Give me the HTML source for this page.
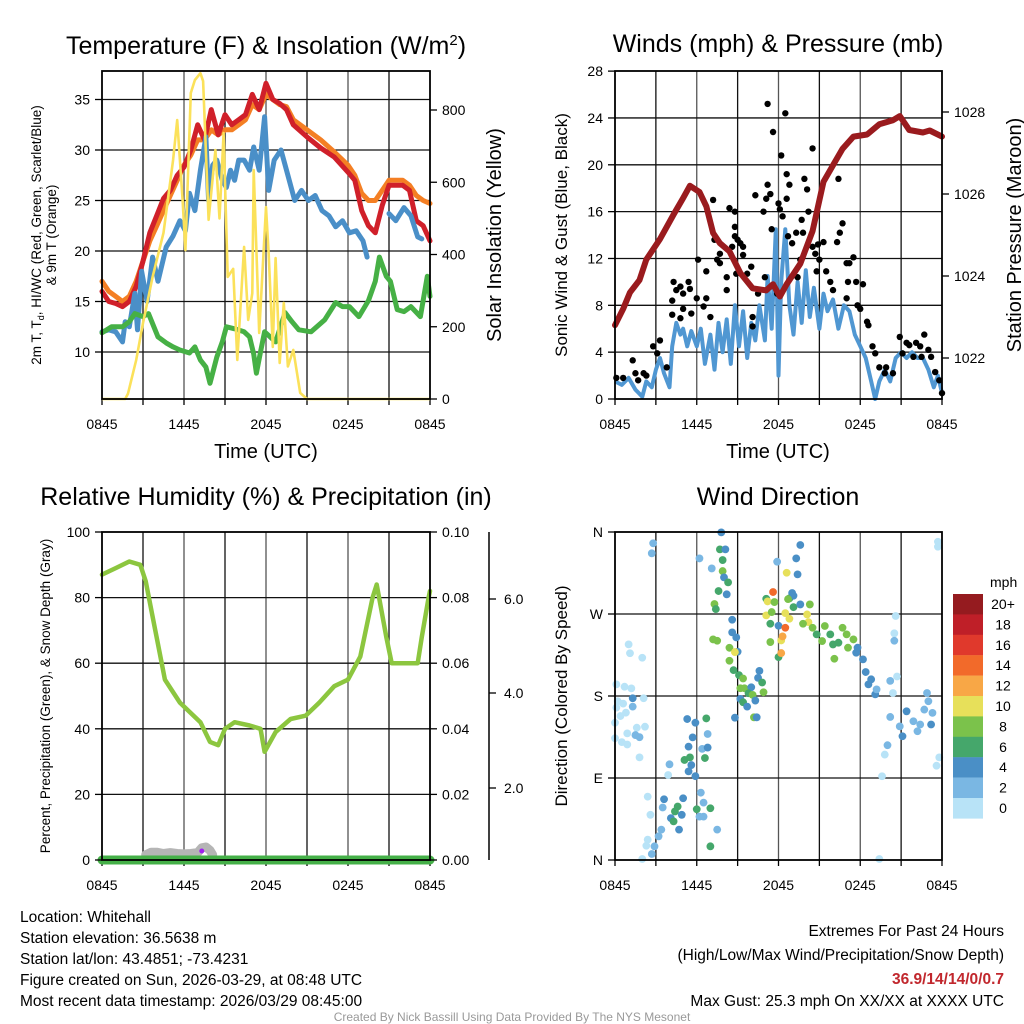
<!DOCTYPE html>
<html><head><meta charset="utf-8"><style>
html,body{margin:0;padding:0;background:#fff;}
svg{display:block;font-family:"Liberation Sans",sans-serif;}
</style></head><body>
<svg id="chart" width="1024" height="1024" viewBox="0 0 1024 1024" xmlns="http://www.w3.org/2000/svg">
<rect x="0" y="0" width="1024" height="1024" fill="#fff"/>
<g id="layer"></g>
<g font-size="25" fill="#000" text-anchor="middle">
<text x="266" y="54">Temperature (F) &amp; Insolation (W/m<tspan dy="-9" font-size="15">2</tspan><tspan dy="9">)</tspan></text>
<text x="778" y="52">Winds (mph) &amp; Pressure (mb)</text>
<text x="266" y="505">Relative Humidity (%) &amp; Precipitation (in)</text>
<text x="778" y="505">Wind Direction</text>
</g>
<g font-size="20" text-anchor="middle">
<text x="266" y="458">Time (UTC)</text>
<text x="778" y="458">Time (UTC)</text>
<text transform="translate(501,235) rotate(-90)">Solar Insolation (Yellow)</text>
<text transform="translate(1021,235) rotate(-90)">Station Pressure (Maroon)</text>
</g>
<g font-size="17" text-anchor="middle">
<text transform="translate(567,235) rotate(-90)">Sonic Wind &amp; Gust (Blue, Black)</text>
<text transform="translate(567,696) rotate(-90)">Direction (Colored By Speed)</text>
</g>
<g font-size="13.5" text-anchor="middle">
<text transform="translate(41,235) rotate(-90)">2m T, T<tspan font-size="9" dy="3">d</tspan><tspan dy="-3">, HI/WC (Red, Green, Scarlet/Blue)</tspan></text>
<text transform="translate(56,235) rotate(-90)">&amp; 9m T (Orange)</text>
<text transform="translate(50,696) rotate(-90)">Percent, Precipitation (Green), &amp; Snow Depth (Gray)</text>
</g>
<g font-size="15.5">
<text x="20" y="922">Location: Whitehall</text>
<text x="20" y="943">Station elevation: 36.5638 m</text>
<text x="20" y="964">Station lat/lon: 43.4851; -73.4231</text>
<text x="20" y="985">Figure created on Sun, 2026-03-29, at 08:48 UTC</text>
<text x="20" y="1006">Most recent data timestamp: 2026/03/29 08:45:00</text>
<text x="1004" y="936" text-anchor="end">Extremes For Past 24 Hours</text>
<text x="1004" y="960" text-anchor="end">(High/Low/Max Wind/Precipitation/Snow Depth)</text>
<text x="1004" y="984" text-anchor="end" fill="#c1272d" font-weight="bold">36.9/14/14/0/0.7</text>
<text x="1004" y="1006" text-anchor="end">Max Gust: 25.3 mph On XX/XX at XXXX UTC</text>
</g>
<text x="512" y="1021" font-size="12" fill="#999" text-anchor="middle">Created By Nick Bassill Using Data Provided By The NYS Mesonet</text>
</svg>
<script>
// ---- Panel 1 data ----
const tempHours = [0,0.5,1,1.5,2,2.5,3,3.5,4,4.5,5,5.5,6,6.5,7,7.5,8,8.5,9,9.5,10,10.5,11,11.5,12,12.5,13,13.5,14,15,16,17,18,18.5,19,19.5,20,20.5,21,22,22.5,23,23.5,24];
const redTemp = [16,15,14.8,14.5,15,16.5,19,21.8,23.5,25.2,26,27.5,28.3,30,32.5,31,34,31.5,33.5,32.5,33,33.5,35.5,34,36.6,35,34.6,34,32.5,31.3,30.2,29.3,27.8,27,24,22.5,21.8,24.5,26.5,26.5,26,23,22.5,21];
const orangeTemp = [17,16,15.5,15,15.5,17,19,21,22.5,24,25.5,27,28.5,29.5,31,31,32,31.5,32,32,32.5,33,34.5,34,35.5,35,34.5,34.3,33,32,31,29.8,28.5,27.5,25.7,25,25,26,27,27,26.5,25.5,25,24.7];
const dewHours = [0,0.5,1,1.5,1.7,2,2.4,2.6,2.9,3.3,3.7,4.1,4.7,5.2,5.7,6.1,6.4,6.8,7.2,7.6,7.8,8.1,8.4,8.8,9.1,9.4,9.7,10,10.4,10.8,11.1,11.5,11.9,12.2,12.6,13.1,13.6,14.1,14.6,15.1,15.6,16.1,16.6,17.1,17.6,18.1,18.6,19.1,19.4,19.5,21,21.5,22.1,22.6,23.1,23.4];
const dewTemp = [12,12.2,12,11,13,12.5,15.8,12.2,18,15,19.4,17,20.4,21.5,23,22,25.7,24,28,31.3,25,28.5,29,27,26.3,28,27,29,29,28,30.3,28,33.3,26,29,30,27.5,25,26,25,25.5,24,23.5,22.4,23,21.8,22,21,19.4,null,23.7,23,24.3,23.5,21.4,21.2];
const greenHours = [0,0.7,1.5,2,2.4,3,3.4,4.1,4.7,5.2,5.7,6.4,6.8,7.2,7.6,7.9,8.4,8.8,9.1,9.7,10.4,10.8,11.1,11.3,11.6,11.9,12.7,13.4,13.9,14.4,15.3,16.3,17.1,17.6,18.1,18.8,19.5,20,20.3,20.8,21.1,21.6,22.1,22.6,23.3,23.8,24];
const greenTemp = [11.9,12.5,12.5,13,13.8,13.5,13.8,11.5,10.9,10.5,10.2,9.9,10.5,9.2,8.5,6.9,9.5,11,12.5,12.3,12,11.5,9.8,7.9,10,12,11,13.9,13,12.2,12,13.2,14.9,14.5,14.5,13.5,15.1,17,19.4,17.5,17,14.2,14,14.5,13.5,17.5,15.5];
const solHours = [0,1.7,1.9,2.5,3.0,3.7,4.5,5.2,5.5,5.9,6.1,6.5,6.8,7.2,7.4,7.8,8.3,8.6,8.9,9.2,9.6,9.9,10.4,10.7,11.0,11.1,11.5,12,12.2,12.5,12.7,13.0,13.3,13.6,14,14.5,15,24];
const solar = [0,0,15,108,210,338,460,662,772,551,412,847,883,902,880,496,689,500,736,338,360,108,421,219,293,634,183,531,400,144,390,100,266,90,136,17,0,0];
const tempTicks = [10,15,20,25,30,35];
const solarTicks = [0,200,400,600,800];
const timeLabels = ["0845","1445","2045","0245","0845"];
const timeLabelHours = [0,6,12,18,24];
// ---- Panel 2 data ----
const presHours = [0,0.6,1.1,1.8,2.3,3.3,4.3,5,5.5,6.2,6.7,7.2,7.7,8.4,9.2,10.1,11.1,11.6,12.1,12.6,13.6,14.5,15.3,16,16.7,17.5,18.5,19.4,20.4,20.9,21.6,22.6,23.1,24];
const pressure = [1022.8,1023.2,1023.6,1023.9,1024.4,1024.9,1025.5,1025.9,1026.2,1026.05,1025.7,1025.05,1024.8,1024.6,1024.07,1023.7,1023.65,1023.8,1023.5,1023.8,1024.3,1025.1,1026.3,1026.7,1027.1,1027.4,1027.45,1027.7,1027.8,1027.9,1027.56,1027.5,1027.55,1027.4];
const windHours = [0,0.5,1,1.5,2,2.3,2.7,3,3.3,3.6,4,4.2,4.5,4.8,5,5.3,5.6,6,6.3,6.6,7,7.3,7.6,7.9,8.2,8.5,8.8,9.1,9.4,9.7,10,10.3,10.6,11,11.2,11.5,11.8,12,12.2,12.5,12.8,13.1,13.4,13.7,14,14.3,14.6,15,15.3,15.6,16,16.4,16.8,17.2,17.6,18,18.4,18.8,19.1,19.4,19.8,20.2,20.6,21,21.4,21.8,22.2,22.6,23,23.4,23.7,24];
const windSpeed = [1.5,1.2,1.8,0.8,0.2,1.5,1.0,2.5,3.5,2.2,1.0,4.5,6.5,5.5,6.0,4.5,5.8,4.5,6.0,3.0,5.5,2.5,6.5,4.0,6.8,3.0,8.0,4.5,7.5,3.5,6.5,5.0,8.0,5.0,10.5,6.0,14.5,2.0,10.0,14.5,8.0,5.5,10.0,6.5,11.0,7.0,9.5,6.0,9.0,7.5,8.5,6.0,8.0,7.5,5.5,4.5,3.5,1.5,0.0,1.5,2.5,1.5,3.5,4.0,3.5,4.0,3.5,3.5,2.5,1.0,2.0,0.5];
const gustHours = [0.1,0.6,1.3,1.5,1.7,2.1,2.3,2.8,3.1,3.3,3.8,4.2,4.2,4.3,4.5,4.8,5.0,5.0,4.8,5.4,5.5,5.6,6.0,6.1,6.5,6.7,6.7,7.0,7.2,7.3,7.5,7.7,7.7,8.2,8.2,8.4,8.6,8.8,8.8,8.8,8.9,9.0,9.2,9.4,9.4,9.7,10.0,10.1,10.1,10.3,10.5,10.9,11.0,11.1,11.2,11.2,11.4,11.5,11.6,11.9,12.0,12.1,12.2,12.3,12.5,12.6,12.6,12.7,12.8,13.0,13.3,13.4,13.6,13.7,13.8,13.9,14.1,14.2,14.5,14.5,14.7,14.8,14.9,15.0,15.3,15.5,15.8,16.0,16.3,16.4,16.5,16.7,17.0,17.2,17.5,17.0,17.1,17.7,17.8,18.0,18.2,18.5,18.6,18.9,19.1,19.4,19.8,19.9,20.4,20.9,21.1,21.4,21.6,21.9,22.1,22.4,22.5,22.7,23.0,23.2,23.5,23.8,24.0];
const gustSpeed = [1.8,1.8,3.3,2.2,1.6,2.2,2.0,4.5,3.9,5.0,2.7,8.4,7.2,10.0,9.3,9.6,9.0,7.7,6.9,10.0,9.4,7.3,8.6,11.9,7.9,10.9,8.6,7.0,17.0,13.6,11.9,11.6,12.4,10.4,9.3,16.3,13.0,16.0,14.7,13.9,10.7,13.6,13.3,13.0,12.3,10.7,11.3,6.2,7.0,17.4,9.0,16.0,10.4,17.1,18.3,25.2,17.5,14.5,22.8,9.0,16.7,16.2,20.8,15.6,24.4,17.1,19.2,13.9,18.3,13.3,14.2,10.4,11.9,15.3,14.2,18.8,17.9,16.0,21.4,13.0,12.4,10.9,13.2,11.9,13.4,10.9,10.0,9.3,13.4,18.8,14.2,15.0,11.6,11.6,12.1,8.6,10.0,10.0,8.0,7.7,9.8,6.6,6.3,4.5,3.9,2.7,2.2,2.7,2.2,5.3,3.9,4.8,4.6,3.6,4.8,4.5,3.6,5.5,4.2,3.6,2.3,1.6,0.5];
const windTicks = [0,4,8,12,16,20,24,28];
const presTicks = [1022,1024,1026,1028];
// ---- Panel 3 data ----
const rhHours = [0,1,2,2.8,3.2,3.9,4.6,5.7,7.2,7.9,8.5,9,9.7,10.8,11.6,11.9,12.7,13.8,14.9,15.9,17,18,18.9,19.8,20.1,20.8,21.2,21.8,23.1,23.4,23.9,24];
const rh = [87,89,91,90,85,70,55,48,42,36,35,40,42,41,40,33,39,43,44,48,53,55,62,80,84,68,60,60,60,68,80,82];
const precipHours = [0,24];
const precip = [0,0];
const snowHours = [3.2,3.6,4,4.5,5,5.5,6,6.5,7,7.3,7.6,7.9,8.1];
const snowDepth = [0.12,0.18,0.18,0.15,0.17,0.15,0.14,0.15,0.17,0.28,0.3,0.22,0.12];
const rhTicks = [0,20,40,60,80,100];
const precipTicks = ["0.00","0.02","0.04","0.06","0.08","0.10"];
const snowTickVals = [2,4,6];
const snowTickLabels = ["2.0","4.0","6.0"];
// ---- Panel 4 data ----
const dirHours = [2.8,2.7,1.0,1.1,2.0,0.1,0.7,1.2,1.3,2.1,0.2,0.6,1.3,0.1,0.8,0.4,0.0,1.6,2.2,1.5,1.8,0.9,0.0,0.5,0.9,1.8,5.3,5.9,6.7,5.7,6.8,5.4,6.4,6.8,5.1,5.5,6.6,5.6,5.4,4.0,3.9,5.9,2.4,3.6,3.5,5.0,4.6,4.4,4.9,4.1,4.3,4.7,2.6,3.4,3.2,2.4,2.3,2.9,2.7,2.0,6.3,6.5,7.0,6.0,6.2,6.5,7.5,7.0,7.8,7.7,8.1,6.2,7.1,7.9,7.9,8.0,8.3,7.6,8.2,7.3,7.4,8.6,8.6,8.9,7.2,7.5,8.4,9.0,8.8,8.4,8.7,9.1,9.4,10.6,10.5,10.8,9.2,9.5,10.0,9.8,10.1,10.9,9.2,9.4,10.3,9.7,10.2,10.4,8.8,11.9,11.6,11.1,11.2,11.7,11.1,11.5,11.4,12.0,11.4,12.0,12.2,12.2,12.3,12.5,12.5,12.8,13.0,12.8,13.1,12.7,13.1,12.6,13.3,13.6,13.4,13.6,14.3,14.1,14.2,13.8,14.5,14.8,15.4,15.8,16.0,15.2,16.4,16.7,17.0,17.1,17.5,17.8,17.7,18.2,16.1,18.4,18.6,18.8,19.1,19.2,20.6,20.5,20.5,20.7,20.2,20.4,20.2,20.9,21.4,21.9,22.4,22.7,23.0,22.9,23.2,23.3,22.2,21.1,20.0,19.8,19.6,23.8,23.6,19.4,23.7,23.7];
const dirDeg = [347.6,336.6,236.7,226.9,222,192.8,190.2,188.4,177.5,177.5,174.2,171.6,168.3,167.2,161.7,158,150.7,145.2,146.3,137.1,134.8,139,133.6,129.4,126.8,112.6,154.7,150.7,155.4,134.6,138.3,124.4,122,123.4,109.8,112.6,111.9,104.2,97.3,105,93.3,92,69.5,66.7,57.6,67.8,58.7,53.3,49.6,46,42.4,33.3,49.6,33.3,26,22.3,15.7,15,6.6,1.1,73.9,63,56.8,55.7,47.6,47.6,33.3,15,359.6,340.9,340.9,331,320,329.2,317.1,310.2,304.7,295.2,291.6,280.9,275.4,263.7,249.8,244.3,242.1,240.6,232.9,228.6,228.2,218.7,208.4,202.9,199.2,207.6,199.9,194.8,188.5,188.5,189.6,183,181.2,184.1,176.8,173.1,175,168.3,156.6,156.6,156.2,327.4,294.1,286.7,283.8,283.1,268.5,272.1,259.3,257.1,239.2,222.7,227.1,241,245.4,254.9,271,264.8,293,287.1,290,286.3,277.5,315.3,331,345.7,313.5,280.5,280.5,269.5,261.1,259.3,254.9,247.6,256.8,247.6,236.6,240.3,238.5,254.9,247.6,233,242.1,233,227.5,220.2,220.9,206.3,192.8,198.3,181.8,187.3,267.8,248.8,240.6,201.4,196.6,183.3,157,146.7,163.2,152.3,148.7,165.1,174.2,183.3,148.7,161.5,141.3,135.8,126,115.7,91.9,112.6,103.5,1.1,349.3,343.8];
const dirSpeed = [3,3,1,1,1,1,1,1,5,1,1,1,3,1,1,1,1,1,1,3,3,1,1,1,1,1,5,5,7,5,3,5,3,5,7,7,7,5,5,3,1,5,1,5,3,5,7,7,5,5,7,5,1,3,3,1,1,3,3,1,3,3,7,7,3,3,3,7,5,7,5,3,3,7,9,5,7,7,5,9,7,5,5,5,9,9,9,5,11,9,7,7,9,5,5,7,9,9,5,7,9,9,5,7,5,5,9,5,5,3,15,7,11,9,11,9,7,5,9,7,13,11,13,15,11,11,5,7,5,9,7,11,5,5,5,5,9,11,11,9,9,7,9,7,7,9,7,9,9,9,9,5,5,5,9,5,5,5,5,3,1,1,3,1,3,1,3,3,5,3,3,3,3,3,5,3,3,5,3,1,1,1,1,1,1,1];
const dirTicks = [0,90,180,270,360];
const dirLabels = ["N","E","S","W","N"];
const speedBins = ["0","2","4","6","8","10","12","14","16","18","20+"];
const speedColors = ["#b8e3f7","#7ab7e3","#4a8fc6","#45a76b","#7bc24b","#e7e05a","#f8a746","#f26a2a","#e0392c","#bf1f28","#951b1f"];

const NS = "http://www.w3.org/2000/svg";
const layer = document.getElementById("layer");
function mk(tag, attrs, parent) {
  const el = document.createElementNS(NS, tag);
  for (const k in attrs) el.setAttribute(k, attrs[k]);
  (parent || layer).appendChild(el);
  return el;
}
function linePath(xs, ys, sx, sy) {
  let d = "", pen = false;
  for (let i = 0; i < xs.length; i++) {
    if (ys[i] === null) { pen = false; continue; }
    d += (pen ? "L" : "M") + sx(xs[i]).toFixed(1) + "," + sy(ys[i]).toFixed(1);
    pen = true;
  }
  return d;
}
function frame(x0, x1, y0, y1, name, hGridVals, sy, gridCount) {
  for (let i = 1; i < gridCount; i++) {
    const x = x0 + (x1 - x0) * i / gridCount;
    const g = mk("line", {x1: x, x2: x, y1: y0, y2: y1, stroke: i % 2 === 0 ? "#555" : "#111", "stroke-width": 1.3});
    
    
  }
  hGridVals.forEach(v => {
    const y = sy(v);
    const g = mk("line", {x1: x0, x2: x1, y1: y, y2: y, stroke: "#111", "stroke-width": 1.3});
    
    
  });
  for (let i = 0; i <= gridCount; i++) {
    const x = x0 + (x1 - x0) * i / gridCount;
    const t = mk("line", {x1: x, x2: x, y1: y1, y2: y1 + 6, stroke: "#000", "stroke-width": 1.3});
    
    
  }
  timeLabelHours.forEach((h, i) => {
    const t = mk("text", {x: x0 + (x1 - x0) * h / 24, y: y1 + 30, "font-size": 14, "text-anchor": "middle"});
    t.textContent = timeLabels[i];
    
    
  });
}
function border(x0, x1, y0, y1, name) {
  const b = mk("rect", {x: x0, y: y0, width: x1 - x0, height: y1 - y0, fill: "none", stroke: "#000", "stroke-width": 1.8});
  
  
}
function yAxisTicks(vals, labels, sy, x, side, name) {
  vals.forEach((v, i) => {
    const y = sy(v);
    const t = mk("line", {x1: x, x2: x + (side === "left" ? -7 : 7), y1: y, y2: y, stroke: "#000", "stroke-width": 1.3});
    
    
    const tx = mk("text", {x: side === "left" ? x - 12 : x + 12, y: y + 5, "font-size": 14, "text-anchor": side === "left" ? "end" : "start"});
    tx.textContent = labels ? labels[i] : v;
    
    
  });
}

// ===== Panel 1 =====
(function(){
  const x0 = 102, x1 = 430, y0 = 71, y1 = 399;
  const sx = h => x0 + (x1 - x0) * h / 24;
  const sy = v => 352 - (v - 10) * 10.1;
  const ss = v => 399 - v * 0.36125;
  frame(x0, x1, y0, y1, "temperature", tempTicks, sy, 8);
  const o = mk("path", {d: linePath(tempHours, orangeTemp, sx, sy), fill: "none", stroke: "#f47f24", "stroke-width": 5, "stroke-linejoin": "round", "stroke-linecap": "round"});
  
  
  const r = mk("path", {d: linePath(tempHours, redTemp, sx, sy), fill: "none", stroke: "#d0202a", "stroke-width": 5, "stroke-linejoin": "round", "stroke-linecap": "round"});
  
  
  const b = mk("path", {d: linePath(dewHours, dewTemp, sx, sy), fill: "none", stroke: "#4a8fc8", "stroke-width": 5, "stroke-linejoin": "round", "stroke-linecap": "round"});
  
  
  const g = mk("path", {d: linePath(greenHours, greenTemp, sx, sy), fill: "none", stroke: "#46b045", "stroke-width": 5, "stroke-linejoin": "round", "stroke-linecap": "round"});
  
  
  const yl = mk("path", {d: linePath(solHours, solar, sx, ss), fill: "none", stroke: "#fbe15a", "stroke-width": 2.6, "stroke-linejoin": "round"});
  
  
  border(x0, x1, y0, y1, "temperature");
  yAxisTicks(tempTicks, null, sy, x0, "left", "temperature-y-axis");
  yAxisTicks(solarTicks, null, ss, x1, "right", "solar-y-axis");
})();

// ===== Panel 2 =====
(function(){
  const x0 = 615, x1 = 942, y0 = 71, y1 = 399;
  const sx = h => x0 + (x1 - x0) * h / 24;
  const sy = v => 399 - v * 11.71;
  const sp = p => 276 - (p - 1024) * 41;
  frame(x0, x1, y0, y1, "winds", [4,8,12,16,20,24], sy, 8);
  const w = mk("path", {d: linePath(windHours, windSpeed, sx, sy), fill: "none", stroke: "#5097d2", "stroke-width": 4, "stroke-linejoin": "round"});
  
  
  for (let i = 0; i < gustHours.length; i++) {
    const c = mk("circle", {cx: sx(gustHours[i]), cy: sy(gustSpeed[i]), r: 3.2, fill: "#000"});
    
    
  }
  const p = mk("path", {d: linePath(presHours, pressure, sx, sp), fill: "none", stroke: "#9a1b1e", "stroke-width": 6, "stroke-linejoin": "round", "stroke-linecap": "round"});
  
  
  border(x0, x1, y0, y1, "winds");
  yAxisTicks(windTicks, null, sy, x0, "left", "wind-y-axis");
  yAxisTicks(presTicks, null, sp, x1, "right", "pressure-y-axis");
})();

// ===== Panel 3 =====
(function(){
  const x0 = 102, x1 = 430, y0 = 532, y1 = 860;
  const sx = h => x0 + (x1 - x0) * h / 24;
  const sy = v => 860 - v * 3.28;
  const sPr = v => 860 - v * 3280;
  const sSn = v => 860 - v * 43.5;
  frame(x0, x1, y0, y1, "humidity", [20,40,60,80], sy, 8);
  const s = mk("path", {d: linePath(snowHours, snowDepth, sx, sSn), fill: "none", stroke: "#b5b5b5", "stroke-width": 9, "stroke-linejoin": "round", "stroke-linecap": "round"});
  
  
  const pl = mk("path", {d: linePath(precipHours, precip, sx, sPr), fill: "none", stroke: "#45b048", "stroke-width": 9, "stroke-linecap": "round"});
  
  
  const dot = mk("circle", {cx: sx(7.3), cy: 851, r: 2.5, fill: "#a020f0"});
  
  
  const r = mk("path", {d: linePath(rhHours, rh, sx, sy), fill: "none", stroke: "#8cc63f", "stroke-width": 4.5, "stroke-linejoin": "round", "stroke-linecap": "round"});
  
  
  border(x0, x1, y0, y1, "humidity");
  yAxisTicks(rhTicks, null, sy, x0, "left", "rh-y-axis");
  yAxisTicks([0,0.02,0.04,0.06,0.08,0.10], precipTicks, sPr, x1, "right", "precip-y-axis");
  const ax = mk("line", {x1: 489, x2: 489, y1: 532, y2: 860, stroke: "#000", "stroke-width": 1.5});
  
  
  snowTickVals.forEach((v, i) => {
    const y = [788, 693, 599][i];
    const t = mk("line", {x1: 489, x2: 496, y1: y, y2: y, stroke: "#000", "stroke-width": 1.3});
    
    
    const tx = mk("text", {x: 504, y: y + 5, "font-size": 14});
    tx.textContent = snowTickLabels[i];
    
    
  });
})();

// ===== Panel 4 =====
(function(){
  const x0 = 615, x1 = 942, y0 = 532, y1 = 860;
  const sx = h => x0 + (x1 - x0) * h / 24;
  const sy = d => 860 - d / 360 * 328;
  frame(x0, x1, y0, y1, "direction", [90,180,270], sy, 8);
  for (let i = 0; i < dirHours.length; i++) {
    const bin = Math.min(10, Math.floor(dirSpeed[i] / 2));
    const c = mk("circle", {cx: sx(dirHours[i]), cy: sy(dirDeg[i]), r: 3.9, fill: speedColors[bin]});
    
    
  }
  border(x0, x1, y0, y1, "direction");
  yAxisTicks(dirTicks, dirLabels, sy, x0, "left", "direction-y-axis");
  const ut = mk("text", {x: 990, y: 587, "font-size": 14});
  ut.textContent = "mph";
  
  
  for (let i = 0; i < speedBins.length; i++) {
    const k = speedBins.length - 1 - i;
    const y = 594 + i * 20.4;
    const rc = mk("rect", {x: 953, y: y, width: 30, height: 20.6, fill: speedColors[k]});
    
    
    const tx = mk("text", {x: 1003, y: y + 15, "font-size": 14, "text-anchor": "middle"});
    tx.textContent = speedBins[k];
    
    
  }
})();
</script>
</body></html>
